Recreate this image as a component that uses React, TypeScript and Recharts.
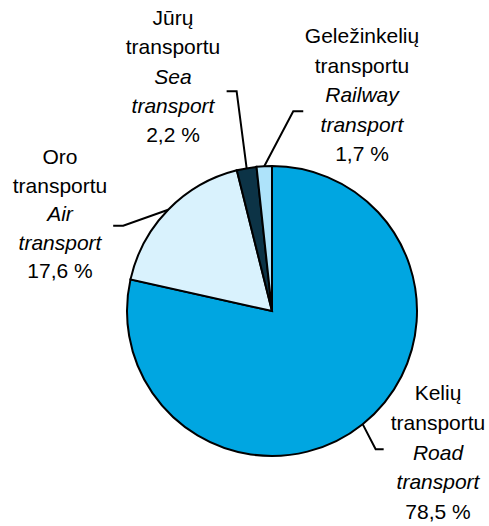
import { PieChart, Pie, Cell } from "recharts";

const names = ["Kelių transportu", "Oro transportu", "Jūrų transportu", "Geležinkelių transportu"];
const namesEn = ["Road transport", "Air transport", "Sea transport", "Railway transport"];
const shares = [78.5, 17.6, 2.2, 1.7];
const colors = ["#00A6E1", "#D9F2FD", "#0C3346", "#AEE3FA"];

const data = shares.map((v, i) => ({ name: names[i], en: namesEn[i], value: v }));

// label layout per slice: bend offset from the edge point, horizontal tail, text block position
const layout = [
  { bx: 13, by: 25, tail: 8, tx: 438, ty: 400, lh: 29.8 },
  { bx: -45, by: 16, tail: -10, tx: 60, ty: 164, lh: 28.5 },
  { bx: -10, by: -77, tail: -10, tx: 173, ty: 25, lh: 29.3 },
  { bx: 29, by: -55, tail: 10, tx: 362, ty: 43, lh: 29.5 },
];

const RAD = Math.PI / 180;

const renderLabel = (props: any) => {
  const { cx, cy, midAngle, outerRadius, index } = props;
  const d = data[index];
  const l = layout[index];
  const ex = cx + outerRadius * Math.cos(-midAngle * RAD);
  const ey = cy + outerRadius * Math.sin(-midAngle * RAD);
  const bx = ex + l.bx;
  const by = ey + l.by;
  const words = d.name.split(" ");
  const en = d.en.split(" ");
  const lines = [
    { t: words[0], it: false },
    { t: words[1], it: false },
    { t: en[0], it: true },
    { t: en[1], it: true },
    { t: d.value.toFixed(1).replace(".", ",") + " %", it: false },
  ];
  return (
    <g key={"lbl" + index}>
      <polyline
        points={`${ex},${ey} ${bx},${by} ${bx + l.tail},${by}`}
        fill="none"
        stroke="#000"
        strokeWidth={2}
      />
      <text
        textAnchor="middle"
        fontFamily="'Liberation Sans', Arial, sans-serif"
        fontSize={21}
        fill="#000"
      >
        {lines.map((ln, k) => (
          <tspan key={k} x={l.tx} y={l.ty + k * l.lh} fontStyle={ln.it ? "italic" : "normal"}>
            {ln.t}
          </tspan>
        ))}
      </text>
    </g>
  );
};

export default function App() {
  return (
    <div style={{ position: "absolute", left: 0, top: 0, background: "#fff" }}>
      <PieChart width={489} height={526} margin={{ top: 0, right: 0, bottom: 0, left: 0 }}>
        <Pie
          data={data}
          dataKey="value"
          cx={272}
          cy={311}
          outerRadius={145}
          startAngle={90}
          endAngle={-270}
          stroke="#000"
          strokeWidth={2}
          label={renderLabel}
          labelLine={false}
          isAnimationActive={false}
        >
          {data.map((d, i) => (
            <Cell key={d.name} fill={colors[i]} />
          ))}
        </Pie>
      </PieChart>
    </div>
  );
}
